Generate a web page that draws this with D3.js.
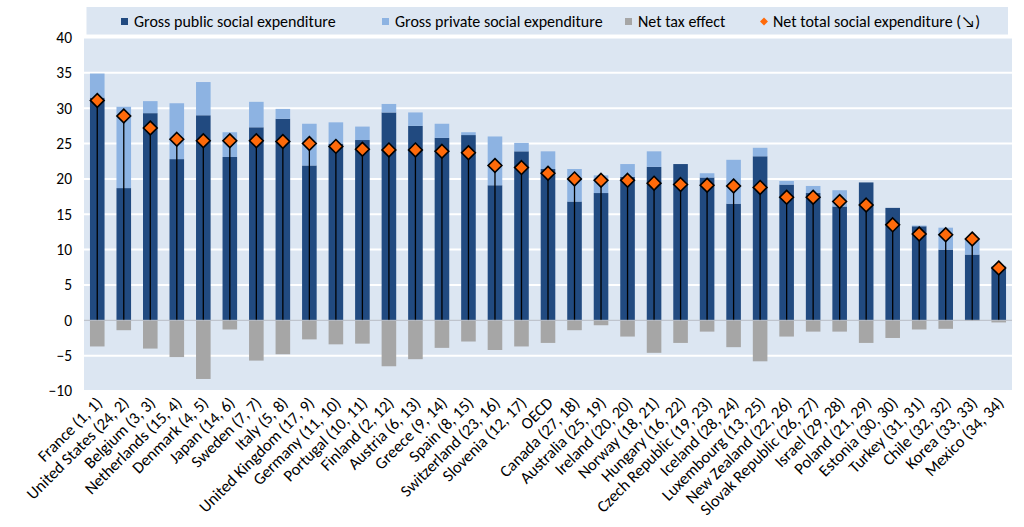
<!DOCTYPE html>
<html>
<head>
<meta charset="utf-8">
<script src="https://cdn.jsdelivr.net/npm/d3@7"></script>
<style>
  html, body { margin: 0; padding: 0; background: #ffffff; }
  svg { display: block; font-family: Calibri, Carlito, Lato, sans-serif; }
</style>
</head>
<body>
<svg id="chart" width="1024" height="527"></svg>
<script>
const countries = ["France (1, 1)", "United States (24, 2)", "Belgium (3, 3)", "Netherlands (15, 4)", "Denmark (4, 5)", "Japan (14, 6)", "Sweden (7, 7)", "Italy (5, 8)", "United Kingdom (17, 9)", "Germany (11, 10)", "Portugal (10, 11)", "Finland (2, 12)", "Austria (6, 13)", "Greece (9, 14)", "Spain (8, 15)", "Switzerland (23, 16)", "Slovenia (12, 17)", "OECD", "Canada (27, 18)", "Australia (25, 19)", "Ireland (20, 20)", "Norway (18, 21)", "Hungary (16, 22)", "Czech Republic (19, 23)", "Iceland (28, 24)", "Luxembourg (13, 25)", "New Zealand (22, 26)", "Slovak Republic (26, 27)", "Israel (29, 28)", "Poland (21, 29)", "Estonia (30, 30)", "Turkey (31, 31)", "Chile (32, 32)", "Korea (33, 33)", "Mexico (34, 34)"];

const grossPublic = [31.5, 18.7, 29.3, 22.8, 29.0, 23.1, 27.3, 28.5, 21.9, 25.0, 25.5, 29.4, 27.5, 25.8, 26.2, 19.1, 23.9, 21.4, 16.8, 18.0, 20.3, 21.7, 22.1, 20.2, 16.5, 23.2, 19.2, 18.0, 16.1, 19.5, 15.9, 13.3, 10.0, 9.3, 7.6];
const grossPrivate = [3.4, 11.5, 1.7, 7.9, 4.7, 3.5, 3.6, 1.4, 5.9, 3.0, 1.9, 1.2, 1.9, 2.0, 0.4, 6.9, 1.2, 2.5, 4.6, 2.5, 1.8, 2.2, 0.0, 0.6, 6.2, 1.2, 0.5, 1.0, 2.3, 0.0, 0.0, 0.1, 3.1, 2.3, 0.1];
const netTaxEffect = [-3.7, -1.4, -4.0, -5.2, -8.3, -1.3, -5.7, -4.8, -2.7, -3.4, -3.3, -6.5, -5.5, -3.9, -3.0, -4.2, -3.7, -3.2, -1.4, -0.7, -2.3, -4.6, -3.2, -1.6, -3.8, -5.8, -2.3, -1.6, -1.6, -3.2, -2.5, -1.3, -1.2, -0.1, -0.3];
const netTotal = [31.1, 28.9, 27.2, 25.6, 25.4, 25.4, 25.4, 25.3, 25.0, 24.6, 24.2, 24.1, 24.1, 23.9, 23.7, 21.9, 21.6, 20.8, 20.0, 19.8, 19.8, 19.4, 19.2, 19.1, 19.0, 18.8, 17.4, 17.4, 16.8, 16.3, 13.5, 12.2, 12.1, 11.5, 7.4];

const yTicks = [-10, -5, 0, 5, 10, 15, 20, 25, 30, 35, 40];
const legendLabels = ["Gross public social expenditure", "Gross private social expenditure", "Net tax effect", "Net total social expenditure (\u2198)"];

const colors = { pub: "#214a80", priv: "#8db3e2", tax: "#a6a6a6", net: "#ff6a0a", bg: "#dce6f2" };

const svg = d3.select("#chart");
const plotLeft = 84, plotRight = 1012, plotTop = 37.5, plotBottom = 391;

const x = d3.scaleBand().domain(countries).range([plotLeft, plotRight]).paddingInner(0.45).paddingOuter(0.225);
const y = d3.scaleLinear().domain([-10, 40]).range([plotBottom, plotTop]);

// plot background
svg.append("rect").attr("x", plotLeft).attr("y", y(40)).attr("width", plotRight - plotLeft).attr("height", y(-10) - y(40)).attr("fill", colors.bg);

// gridlines
svg.append("g").selectAll("line").data(yTicks.filter(d => d !== 0)).join("line")
  .attr("x1", plotLeft).attr("x2", plotRight)
  .attr("y1", d => y(d)).attr("y2", d => y(d))
  .attr("stroke", "#ffffff").attr("stroke-width", 2);

// y axis
const yAxis = d3.axisLeft(y).tickValues(yTicks).tickSize(0).tickPadding(0).tickFormat(d3.format("d"));
const gy = svg.append("g").attr("transform", `translate(${plotLeft - 12},0)`).call(yAxis);
gy.select(".domain").remove();
gy.selectAll("text").attr("font-size", 15.5).attr("fill", "#000").attr("font-family", "Calibri, Carlito, Lato, sans-serif");

// bars
const g = svg.append("g");
g.selectAll("rect.pub").data(countries).join("rect").attr("class", "pub")
  .attr("x", d => x(d)).attr("width", x.bandwidth())
  .attr("y", (d, i) => y(grossPublic[i])).attr("height", (d, i) => y(0) - y(grossPublic[i]))
  .attr("fill", colors.pub);
g.selectAll("rect.priv").data(countries).join("rect").attr("class", "priv")
  .attr("x", d => x(d)).attr("width", x.bandwidth())
  .attr("y", (d, i) => y(grossPublic[i] + grossPrivate[i])).attr("height", (d, i) => y(grossPublic[i]) - y(grossPublic[i] + grossPrivate[i]))
  .attr("fill", colors.priv);
g.selectAll("rect.tax").data(countries).join("rect").attr("class", "tax")
  .attr("x", d => x(d)).attr("width", x.bandwidth())
  .attr("y", y(0)).attr("height", (d, i) => y(netTaxEffect[i]) - y(0))
  .attr("fill", colors.tax);

// zero line
svg.append("line").attr("x1", plotLeft).attr("x2", plotRight).attr("y1", y(0)).attr("y2", y(0))
  .attr("stroke", "#b8bcc4").attr("stroke-width", 1);

// drop lines
g.selectAll("line.drop").data(countries).join("line").attr("class", "drop")
  .attr("x1", d => x(d) + x.bandwidth() / 2).attr("x2", d => x(d) + x.bandwidth() / 2)
  .attr("y1", y(0)).attr("y2", (d, i) => y(netTotal[i]))
  .attr("stroke", "#000").attr("stroke-width", 1.3);

// diamonds
const diamond = d3.symbol().type(d3.symbolDiamond2).size(120);
g.selectAll("path.net").data(countries).join("path").attr("class", "net")
  .attr("d", diamond)
  .attr("transform", (d, i) => `translate(${x(d) + x.bandwidth() / 2},${y(netTotal[i])})`)
  .attr("fill", colors.net).attr("stroke", "#000").attr("stroke-width", 1.6);

// x labels
svg.append("g").selectAll("text").data(countries).join("text")
  .attr("transform", d => `translate(${x(d) + x.bandwidth() / 2 + 6},${plotBottom + 13}) rotate(-45)`)
  .attr("text-anchor", "end")
  .attr("font-size", 16.5)
  .attr("fill", "#000")
  .text(d => d);

// legend
const lg = svg.append("g");
lg.append("rect").attr("x", 86.5).attr("y", 7).attr("width", 1008 - 86.5).attr("height", 27.5).attr("fill", colors.bg);
const legX = [121, 382, 625, 760];
const legCol = [colors.pub, colors.priv, colors.tax, colors.net];
legendLabels.forEach((lab, i) => {
  if (i < 3) {
    lg.append("rect").attr("x", legX[i]).attr("y", 18).attr("width", 7).attr("height", 7).attr("fill", legCol[i]);
  } else {
    lg.append("path").attr("d", d3.symbol().type(d3.symbolDiamond2).size(40)())
      .attr("transform", `translate(${legX[i] + 4},21.5)`).attr("fill", legCol[i]);
  }
  lg.append("text").attr("x", legX[i] + 13).attr("y", 26.5).attr("font-size", 16).attr("fill", "#000").text(lab);
});
</script>
</body>
</html>
